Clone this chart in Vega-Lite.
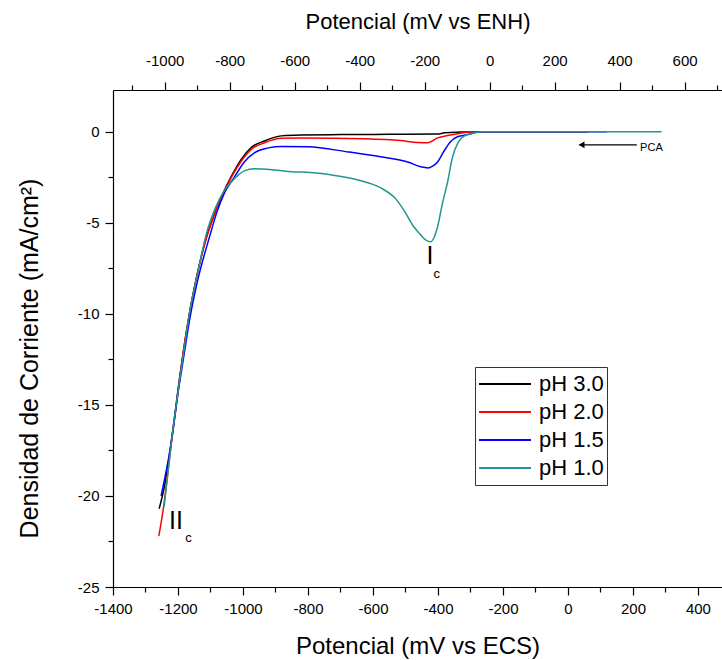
{
  "$schema": "https://vega.github.io/schema/vega-lite/v6.json",
  "width": 609,
  "height": 497,
  "autosize": {"type": "none"},
  "padding": {"left": 113, "top": 90, "right": 0, "bottom": 73},
  "background": "white",
  "config": {
    "view": {"stroke": null},
    "font": "Liberation Sans",
    "axis": {
      "domainColor": "#000000",
      "domainWidth": 1.2,
      "tickColor": "#000000",
      "tickWidth": 1.2,
      "labelColor": "#000000",
      "titleColor": "#000000",
      "labelFont": "Liberation Sans",
      "titleFont": "Liberation Sans",
      "labelFontSize": 15,
      "titleFontSize": 22,
      "titleFontWeight": "normal",
      "grid": false
    }
  },
  "datasets": {
    "curves": [
      {"pH": "pH 3.0", "mV": 60, "j": 0},
      {"pH": "pH 3.0", "mV": -100, "j": 0},
      {"pH": "pH 3.0", "mV": -270, "j": 0},
      {"pH": "pH 3.0", "mV": -380, "j": -0.05},
      {"pH": "pH 3.0", "mV": -400, "j": -0.12},
      {"pH": "pH 3.0", "mV": -500, "j": -0.13},
      {"pH": "pH 3.0", "mV": -600, "j": -0.14},
      {"pH": "pH 3.0", "mV": -700, "j": -0.15},
      {"pH": "pH 3.0", "mV": -821, "j": -0.17},
      {"pH": "pH 3.0", "mV": -882, "j": -0.22},
      {"pH": "pH 3.0", "mV": -934, "j": -0.5},
      {"pH": "pH 3.0", "mV": -974, "j": -0.85},
      {"pH": "pH 3.0", "mV": -1005, "j": -1.5},
      {"pH": "pH 3.0", "mV": -1036, "j": -2.45},
      {"pH": "pH 3.0", "mV": -1066, "j": -3.55},
      {"pH": "pH 3.0", "mV": -1091, "j": -4.65},
      {"pH": "pH 3.0", "mV": -1112, "j": -5.75},
      {"pH": "pH 3.0", "mV": -1143, "j": -8.0},
      {"pH": "pH 3.0", "mV": -1167, "j": -10.2},
      {"pH": "pH 3.0", "mV": -1183, "j": -12.0},
      {"pH": "pH 3.0", "mV": -1195, "j": -13.5},
      {"pH": "pH 3.0", "mV": -1219, "j": -16.8},
      {"pH": "pH 3.0", "mV": -1242, "j": -19.5},
      {"pH": "pH 3.0", "mV": -1258, "j": -20.7},

      {"pH": "pH 2.0", "mV": 60, "j": 0},
      {"pH": "pH 2.0", "mV": -300, "j": 0},
      {"pH": "pH 2.0", "mV": -331, "j": -0.08},
      {"pH": "pH 2.0", "mV": -371, "j": -0.2},
      {"pH": "pH 2.0", "mV": -401, "j": -0.33},
      {"pH": "pH 2.0", "mV": -432, "j": -0.6},
      {"pH": "pH 2.0", "mV": -463, "j": -0.58},
      {"pH": "pH 2.0", "mV": -515, "j": -0.48},
      {"pH": "pH 2.0", "mV": -628, "j": -0.38},
      {"pH": "pH 2.0", "mV": -821, "j": -0.33},
      {"pH": "pH 2.0", "mV": -882, "j": -0.35},
      {"pH": "pH 2.0", "mV": -934, "j": -0.6},
      {"pH": "pH 2.0", "mV": -974, "j": -0.95},
      {"pH": "pH 2.0", "mV": -1005, "j": -1.6},
      {"pH": "pH 2.0", "mV": -1036, "j": -2.5},
      {"pH": "pH 2.0", "mV": -1066, "j": -3.6},
      {"pH": "pH 2.0", "mV": -1091, "j": -4.7},
      {"pH": "pH 2.0", "mV": -1112, "j": -5.8},
      {"pH": "pH 2.0", "mV": -1143, "j": -8.0},
      {"pH": "pH 2.0", "mV": -1167, "j": -10.2},
      {"pH": "pH 2.0", "mV": -1183, "j": -12.0},
      {"pH": "pH 2.0", "mV": -1195, "j": -13.6},
      {"pH": "pH 2.0", "mV": -1219, "j": -16.9},
      {"pH": "pH 2.0", "mV": -1246, "j": -20.8},
      {"pH": "pH 2.0", "mV": -1259, "j": -22.2},

      {"pH": "pH 1.5", "mV": 120, "j": 0},
      {"pH": "pH 1.5", "mV": -270, "j": 0},
      {"pH": "pH 1.5", "mV": -309, "j": -0.15},
      {"pH": "pH 1.5", "mV": -340, "j": -0.27},
      {"pH": "pH 1.5", "mV": -362, "j": -0.55},
      {"pH": "pH 1.5", "mV": -383, "j": -1.1},
      {"pH": "pH 1.5", "mV": -401, "j": -1.65},
      {"pH": "pH 1.5", "mV": -418, "j": -1.9},
      {"pH": "pH 1.5", "mV": -429, "j": -1.98},
      {"pH": "pH 1.5", "mV": -453, "j": -1.92},
      {"pH": "pH 1.5", "mV": -493, "j": -1.65},
      {"pH": "pH 1.5", "mV": -576, "j": -1.37},
      {"pH": "pH 1.5", "mV": -677, "j": -1.1},
      {"pH": "pH 1.5", "mV": -800, "j": -0.82},
      {"pH": "pH 1.5", "mV": -882, "j": -0.8},
      {"pH": "pH 1.5", "mV": -922, "j": -0.88},
      {"pH": "pH 1.5", "mV": -965, "j": -1.15},
      {"pH": "pH 1.5", "mV": -996, "j": -1.65},
      {"pH": "pH 1.5", "mV": -1026, "j": -2.47},
      {"pH": "pH 1.5", "mV": -1057, "j": -3.35},
      {"pH": "pH 1.5", "mV": -1081, "j": -4.45},
      {"pH": "pH 1.5", "mV": -1103, "j": -5.77},
      {"pH": "pH 1.5", "mV": -1140, "j": -8.2},
      {"pH": "pH 1.5", "mV": -1165, "j": -10.4},
      {"pH": "pH 1.5", "mV": -1181, "j": -12.2},
      {"pH": "pH 1.5", "mV": -1197, "j": -14.0},
      {"pH": "pH 1.5", "mV": -1222, "j": -17.2},
      {"pH": "pH 1.5", "mV": -1252, "j": -20.0},

      {"pH": "pH 1.0", "mV": 288, "j": 0},
      {"pH": "pH 1.0", "mV": -270, "j": 0},
      {"pH": "pH 1.0", "mV": -300, "j": -0.11},
      {"pH": "pH 1.0", "mV": -316, "j": -0.2},
      {"pH": "pH 1.0", "mV": -337, "j": -0.55},
      {"pH": "pH 1.0", "mV": -355, "j": -1.37},
      {"pH": "pH 1.0", "mV": -371, "j": -2.8},
      {"pH": "pH 1.0", "mV": -386, "j": -3.9},
      {"pH": "pH 1.0", "mV": -401, "j": -5.2},
      {"pH": "pH 1.0", "mV": -412, "j": -5.8},
      {"pH": "pH 1.0", "mV": -423, "j": -6.04},
      {"pH": "pH 1.0", "mV": -437, "j": -5.95},
      {"pH": "pH 1.0", "mV": -453, "j": -5.66},
      {"pH": "pH 1.0", "mV": -475, "j": -5.2},
      {"pH": "pH 1.0", "mV": -505, "j": -4.3},
      {"pH": "pH 1.0", "mV": -530, "j": -3.68},
      {"pH": "pH 1.0", "mV": -576, "j": -3.08},
      {"pH": "pH 1.0", "mV": -646, "j": -2.64},
      {"pH": "pH 1.0", "mV": -729, "j": -2.36},
      {"pH": "pH 1.0", "mV": -821, "j": -2.2},
      {"pH": "pH 1.0", "mV": -843, "j": -2.2},
      {"pH": "pH 1.0", "mV": -904, "j": -2.09},
      {"pH": "pH 1.0", "mV": -965, "j": -2.03},
      {"pH": "pH 1.0", "mV": -996, "j": -2.14},
      {"pH": "pH 1.0", "mV": -1014, "j": -2.36},
      {"pH": "pH 1.0", "mV": -1036, "j": -2.75},
      {"pH": "pH 1.0", "mV": -1060, "j": -3.3},
      {"pH": "pH 1.0", "mV": -1091, "j": -4.45},
      {"pH": "pH 1.0", "mV": -1112, "j": -5.55},
      {"pH": "pH 1.0", "mV": -1140, "j": -7.8},
      {"pH": "pH 1.0", "mV": -1165, "j": -10.0},
      {"pH": "pH 1.0", "mV": -1180, "j": -11.8},
      {"pH": "pH 1.0", "mV": -1193, "j": -13.4},
      {"pH": "pH 1.0", "mV": -1218, "j": -16.7},
      {"pH": "pH 1.0", "mV": -1243, "j": -20.6}
    ],
    "arrow": [
      {"mV": 212, "mV2": 35, "j": -0.71}
    ],
    "arrowhead": [
      {"mV": 42, "j": -0.71}
    ],
    "pca": [
      {"mV": 222, "j": -0.9, "text": "PCA"}
    ],
    "big": [
      {"mV": -425, "j": -6.8, "text": "I"},
      {"mV": -1206, "j": -21.4, "text": "II"}
    ],
    "small": [
      {"mV": -404, "j": -7.8, "text": "c"},
      {"mV": -1168, "j": -22.3, "text": "c"}
    ],
    "enh": [
      {"enh": -1159},
      {"enh": 715}
    ]
  },
  "layer": [
    {
      "encoding": {
        "x": {
          "field": "mV",
          "type": "quantitative",
          "scale": {"domain": [-1400, 474], "nice": false, "zero": false},
          "axis": {
            "orient": "bottom",
            "title": "Potencial (mV vs ECS)",
            "titleFontSize": 24,
            "values": [-1400, -1300, -1200, -1100, -1000, -900, -800, -700, -600, -500, -400, -300, -200, -100, 0, 100, 200, 300, 400],
            "labelExpr": "datum.value % 200 === 0 ? toString(datum.value) : ''",
            "tickSize": {"expr": "datum.value % 200 === 0 ? 8 : 5"},
            "labelPadding": 6,
            "titlePadding": 18,
            "labelFlush": false,
            "labelOverlap": false
          }
        },
        "y": {
          "field": "j",
          "type": "quantitative",
          "scale": {"domain": [-25, 2.3], "nice": false, "zero": false},
          "axis": {
            "title": "Densidad de Corriente (mA/cm²)",
            "titleFontSize": 25,
            "titleY": 268,
            "values": [-25, -22.5, -20, -17.5, -15, -12.5, -10, -7.5, -5, -2.5, 0],
            "labelExpr": "datum.value % 5 === 0 ? toString(datum.value) : ''",
            "tickSize": {"expr": "datum.value % 5 === 0 ? 8 : 5"},
            "labelPadding": 6,
            "titlePadding": 35,
            "labelFlush": false,
            "labelOverlap": false
          }
        }
      },
      "layer": [
        {
          "data": {"name": "curves"},
          "mark": {"type": "line", "strokeWidth": 1.5, "interpolate": "monotone"},
          "encoding": {
            "color": {
              "field": "pH",
              "type": "nominal",
              "scale": {
                "domain": ["pH 3.0", "pH 2.0", "pH 1.5", "pH 1.0"],
                "range": ["#000000", "#ff0000", "#0000ff", "#23968f"]
              },
              "legend": {
                "title": null,
                "orient": "none",
                "legendX": 362,
                "legendY": 277,
                "symbolType": "stroke",
                "symbolSize": 2700,
                "symbolStrokeWidth": 2,
                "labelFontSize": 22,
                "labelFont": "Liberation Sans",
                "labelColor": "#000000",
                "strokeColor": "#333333",
                "padding": 3,
                "rowPadding": 0,
                "clipHeight": 28,
                "labelOffset": 7
              }
            },
            "order": {"field": "pH", "sort": "descending"}
          }
        },
        {
          "data": {"name": "arrow"},
          "mark": {"type": "rule", "color": "#000000", "strokeWidth": 1.2},
          "encoding": {
            "x2": {"field": "mV2"}
          }
        },
        {
          "data": {"name": "arrowhead"},
          "mark": {"type": "point", "shape": "triangle-left", "filled": true, "color": "#000000", "size": 45, "opacity": 1}
        },
        {
          "data": {"name": "pca"},
          "mark": {"type": "text", "align": "left", "baseline": "middle", "fontSize": 11, "color": "#000000"},
          "encoding": {"text": {"field": "text"}}
        },
        {
          "data": {"name": "big"},
          "mark": {"type": "text", "align": "center", "baseline": "middle", "fontSize": 25, "color": "#000000"},
          "encoding": {"text": {"field": "text"}}
        },
        {
          "data": {"name": "small"},
          "mark": {"type": "text", "align": "center", "baseline": "middle", "fontSize": 13, "color": "#000000"},
          "encoding": {"text": {"field": "text"}}
        }
      ]
    },
    {
      "data": {"name": "enh"},
      "mark": {"type": "point", "opacity": 0},
      "encoding": {
        "x": {
          "field": "enh",
          "type": "quantitative",
          "scale": {"domain": [-1159, 715], "nice": false, "zero": false},
          "axis": {
            "orient": "top",
            "title": "Potencial (mV vs ENH)",
            "values": [-1100, -1000, -900, -800, -700, -600, -500, -400, -300, -200, -100, 0, 100, 200, 300, 400, 500, 600, 700],
            "labelExpr": "datum.value % 200 === 0 && datum.value <= 600 ? toString(datum.value) : ''",
            "tickSize": {"expr": "datum.value % 200 === 0 ? 8 : 5"},
            "labelPadding": 14,
            "titlePadding": 20,
            "labelFlush": false,
            "labelOverlap": false
          }
        }
      }
    }
  ],
  "resolve": {"scale": {"x": "independent"}}
}
